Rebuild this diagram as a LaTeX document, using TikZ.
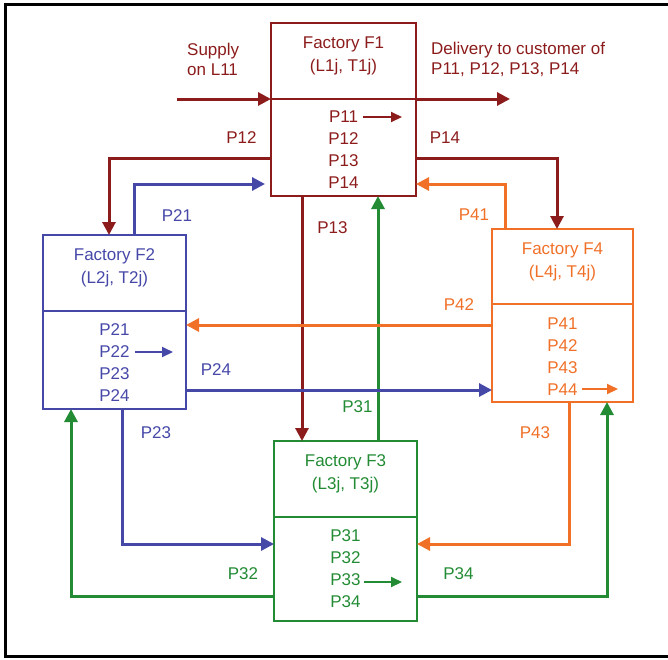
\documentclass[tikz,border=0pt]{standalone}
\usepackage{fontspec}
\setmainfont{Liberation Sans}
\usetikzlibrary{arrows.meta,positioning}

\begin{document}
\begin{tikzpicture}[x=1pt,y=-1pt,
  font=\fontsize{17}{22}\selectfont,
  factory/.style={draw=#1,line width=2.4pt,minimum width=143pt,
    inner sep=0pt,outer sep=0pt},
  title/.style={text=#1,inner sep=0pt,align=center},
  flow/.style={draw=#1,line width=3pt,-{Triangle[length=13pt,width=13pt]}},
  minarrow/.style={draw=#1,line width=2pt,-{Triangle[length=11pt,width=10pt]}},
  lbl/.style={text=#1,inner sep=0pt}]
% Define factory colours
\definecolor{brn}{RGB}{140,28,28}
\definecolor{blu}{RGB}{70,72,168}
\definecolor{org}{RGB}{240,112,40}
\definecolor{grn}{RGB}{34,139,52}

\useasboundingbox (0,0) rectangle (668,659);

% Outer frame
\draw[line width=3pt] (668,4) -- (5,4) -- (5,656) -- (668,656);

% Draw factories
\node[factory=brn,line width=1.8pt,minimum width=145pt,minimum height=76pt] (f1) at (343.5,61) {};
\node[factory=brn,line width=1.8pt,minimum width=145pt,minimum height=97pt,below=0pt of f1] (f1p) {};
\node[title=brn,font=\fontsize{17}{23}\selectfont,below=13.5pt of f1.north] (f1n) {Factory F1\\(L1j, T1j)};
\node[title=brn,below=12pt of f1.south] (f1l) {P11\\P12\\P13\\P14};

\node[factory=blu,minimum height=76pt] (f2) at (114.5,273) {};
\node[factory=blu,minimum height=98pt,below=0pt of f2] (f2p) {};
\node[title=blu,font=\fontsize{17}{23}\selectfont,below=13.5pt of f2.north] (f2n) {Factory F2\\(L2j, T2j)};
\node[title=blu,below=12pt of f2.south] (f2l) {P21\\P22\\P23\\P24};

\node[factory=org,minimum width=141pt,minimum height=75pt] (f4) at (562.5,266.5) {};
\node[factory=org,minimum width=141pt,minimum height=98pt,below=0pt of f4] (f4p) {};
\node[title=org,font=\fontsize{17}{23}\selectfont,below=13.5pt of f4.north] (f4n) {Factory F4\\(L4j, T4j)};
\node[title=org,below=13.5pt of f4.south] (f4l) {P41\\P42\\P43\\P44};

\node[factory=grn,minimum height=76pt] (f3) at (345.5,479) {};
\node[factory=grn,minimum height=104pt,below=0pt of f3] (f3p) {};
\node[title=grn,font=\fontsize{17}{23}\selectfont,below=13.5pt of f3.north] (f3n) {Factory F3\\(L3j, T3j)};
\node[title=grn,below=12pt of f3.south] (f3l) {P31\\P32\\P33\\P34};

% Own products
\draw[minarrow=brn] ([shift={(19.5,18)}]f1p.north) -- ++(39,0);
\draw[minarrow=blu] ([shift={(20.5,41)}]f2p.north) -- ++(38,0);
\draw[minarrow=grn] ([shift={(18.5,65)}]f3p.north) -- ++(38,0);
\draw[minarrow=org] ([shift={(19.5,85)}]f4p.north) -- ++(36,0);

% Supply and delivery
\coordinate (supply) at (177,99);
\coordinate (deliver) at (510,99);
\draw[flow=brn] (supply) -- (f1.south west);
\draw[flow=brn] (f1.south east) -- (deliver);
\node[lbl=brn,align=left,anchor=west,font=\fontsize{17}{20}\selectfont] (supplytxt) at (187,59) {Supply\\on L11};
\node[lbl=brn,align=left,anchor=west,font=\fontsize{17}{20}\selectfont] (delivtxt) at (431,59) {Delivery to customer of\\P11, P12, P13, P14};

% Flows between factories
\draw[flow=brn] (f1p.south -| 302,0) -- (f3.north -| 302,0);
\draw[flow=grn] (f3.north -| 378,0) -- (f1p.south -| 378,0);
\draw[flow=org] (f4p.west |- 0,325) -- (f2p.east |- 0,325);
\draw[flow=blu] (f2p.east |- 0,390) -- (f4p.west |- 0,390);
\draw[flow=brn] (f1p.west |- 0,158) -| ([xshift=-5.5pt]f2.north);
\draw[flow=brn] (f1p.east |- 0,158) -| ([xshift=-5.5pt]f4.north);
\draw[flow=blu] (f2.north -| 134,0) |- ([xshift=-6pt]f1p.west |- 0,184);
\draw[flow=org] (f4.north -| 505,0) |- (f1p.east |- 0,184);
\draw[flow=blu] (f2p.south -| 122,0) |- (f3p.west |- 0,544);
\draw[flow=org] (f4p.south -| 569,0) |- (f3p.east |- 0,544);
\draw[flow=grn] (f3p.west |- 0,596) -| (f2p.south -| 71,0);
\draw[flow=grn] (f3p.east |- 0,596) -| (f4p.south -| 607,0);

% Flow labels
\node[lbl=brn] (l12) at (241.5,138) {P12};
\node[lbl=brn] (l14) at (445,138) {P14};
\node[lbl=brn] (l13) at (332.5,228) {P13};
\node[lbl=blu] (l21) at (177,216) {P21};
\node[lbl=org] (l41) at (474,215) {P41};
\node[lbl=org] (l42) at (459,305) {P42};
\node[lbl=blu] (l24) at (216,370) {P24};
\node[lbl=grn] (l31) at (357.5,407) {P31};
\node[lbl=blu] (l23) at (156,433) {P23};
\node[lbl=org] (l43) at (535,433) {P43};
\node[lbl=grn] (l32) at (243,574) {P32};
\node[lbl=grn] (l34) at (458.5,574) {P34};
\end{tikzpicture}
\end{document}
